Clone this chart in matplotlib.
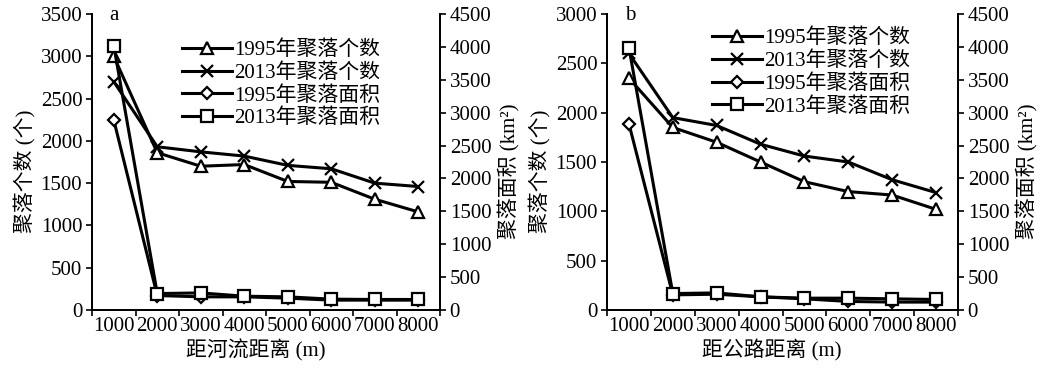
import numpy as np
from matplotlib import pyplot as plt
from matplotlib.lines import Line2D

plt.rcParams['font.family'] = ['Liberation Serif', 'Noto Sans CJK SC', 'DejaVu Sans']
plt.rcParams['font.size'] = 15

distances = ['1000', '2000', '3000', '4000', '5000', '6000', '7000', '8000']
series_names = ['1995年聚落个数', '2013年聚落个数', '1995年聚落面积', '2013年聚落面积']

# a: distance to river
river_count_1995 = [3000, 1860, 1700, 1720, 1520, 1510, 1310, 1160]
river_count_2013 = [2700, 1930, 1870, 1820, 1710, 1670, 1500, 1460]
river_area_1995 = [2890, 220, 200, 200, 180, 150, 150, 150]
river_area_2013 = [4020, 250, 260, 210, 200, 165, 160, 160]

# b: distance to road
road_count_1995 = [2350, 1850, 1700, 1500, 1300, 1200, 1165, 1020]
road_count_2013 = [2600, 1950, 1870, 1680, 1560, 1500, 1320, 1190]
road_area_1995 = [2830, 230, 240, 200, 170, 130, 120, 120]
road_area_2013 = [3990, 250, 260, 200, 180, 180, 170, 160]

markers = ['^', 'x', 'D', 's']
msizes = [8, 9, 6, 9]


def draw_panel(rect, letter, xlabel, counts, areas, count_max, legend_xy):
    ax = fig.add_axes(rect)
    ax2 = ax.twinx()
    x = np.arange(len(distances))
    handles = []
    for i, ys in enumerate(counts):
        ax.plot(x, ys, color='black', lw=2.2, marker=markers[i], ms=msizes[i],
                mfc='white', mec='black', mew=1.6, clip_on=False)
    for j, ys in enumerate(areas):
        i = j + 2
        ax2.plot(x, ys, color='black', lw=2.2, marker=markers[i], ms=msizes[i],
                 mfc='white', mec='black', mew=1.6, clip_on=False)
    for i in range(4):
        handles.append(Line2D([], [], color='black', lw=2.2, marker=markers[i], ms=msizes[i],
                              mfc='white', mec='black', mew=1.6))

    ax.set_xlim(-0.5, len(distances) - 0.5)
    ax.set_xticks(x)
    ax.set_xticklabels(distances)
    ax.set_xticks(np.arange(len(distances) + 1) - 0.5, minor=True)
    ax.tick_params(axis='x', which='major', length=0, pad=5)
    ax.tick_params(axis='x', which='minor', length=4, width=1.2, direction='out')

    ax.set_ylim(0, count_max)
    ax.set_yticks(np.arange(0, count_max + 1, 500))
    ax2.set_ylim(0, 4500)
    ax2.set_yticks(np.arange(0, 4501, 500))
    ax.tick_params(axis='y', length=4, width=1.2, direction='out', pad=3)
    ax2.tick_params(axis='y', length=4, width=1.2, direction='out', pad=3)

    for a in (ax, ax2):
        a.spines['top'].set_visible(False)
        for s in ('left', 'right', 'bottom'):
            a.spines[s].set_linewidth(1.3)

    w = rect[2] * 1044
    h = rect[3] * 372
    ax.set_xlabel(xlabel, va='center')
    ax.xaxis.set_label_coords(0.47, -40 / h)
    ax.set_ylabel('聚落个数 (个)', va='center', ha='center', rotation_mode='anchor')
    ax.yaxis.set_label_coords(-67 / w, 0.47)
    ax2.set_ylabel('聚落面积 (km²)', va='center', ha='center', rotation_mode='anchor')
    ax2.yaxis.set_label_coords(1 + 69 / w, 0.47)

    ax.text(0.05, 0.995, letter, transform=ax.transAxes, ha='left', va='center', fontsize=15)

    ax2.legend(handles, series_names, loc='upper left', bbox_to_anchor=legend_xy,
               frameon=False, borderpad=0, borderaxespad=0, handlelength=2.4,
               handletextpad=0.1, labelspacing=0.15, numpoints=1, fontsize=15)


fig = plt.figure(figsize=(10.44, 3.72), dpi=100)
draw_panel([92 / 1044, 62 / 372, 348 / 1044, 296 / 372], 'a', '距河流距离 (m)',
           [river_count_1995, river_count_2013], [river_area_1995, river_area_2013],
           3500, (0.26, 0.91))
draw_panel([607 / 1044, 62 / 372, 351 / 1044, 296 / 372], 'b', '距公路距离 (m)',
           [road_count_1995, road_count_2013], [road_area_1995, road_area_2013],
           3000, (0.30, 0.95))
fig.savefig('out.png', dpi=100)
